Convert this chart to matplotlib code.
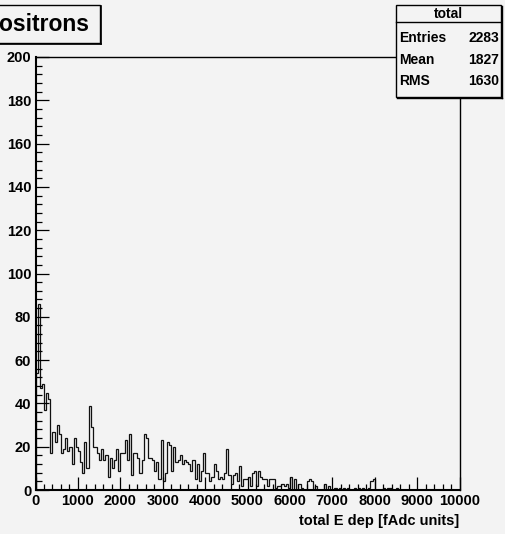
import matplotlib
matplotlib.use("Agg")
import matplotlib.pyplot as plt
from matplotlib.patches import Rectangle
from matplotlib.lines import Line2D
from matplotlib.ticker import MultipleLocator
import numpy as np

# ---------------- data ----------------
title = "positrons"
x_label = "total E dep [fAdc units]"
stats_name = "total"
stats_labels = ["Entries", "Mean", "RMS"]
stats_values = ["2283", "1827", "1630"]

x_min, x_max, n_bins = 0, 10000, 200

counts_a = [54, 86, 47, 49, 37, 45, 42, 17, 27, 22, 30, 26, 17, 19, 24, 18, 20, 12, 24, 20,
            18, 13, 8, 22, 10, 39, 29, 20, 20, 17, 14, 19, 14, 16, 6, 15, 10, 14, 19, 9,
            17, 17, 23, 14]
counts_b = [26, 7, 17, 17, 15, 8, 14, 26, 24, 15, 15, 14, 9, 13, 5, 23, 4, 8, 22, 21,
            9, 20, 13, 14, 16, 12, 14, 13, 12, 9, 14, 5, 12, 4, 9, 17, 8, 8, 4, 6,
            12, 9, 5, 6, 5, 8, 19, 7, 3, 7, 8]
counts_c = [4, 11, 2, 5, 5, 6, 2, 8, 9, 2, 9, 6, 5, 5, 2, 5, 5, 5, 1, 2,
            2, 3, 2, 3, 1, 6, 0, 5, 0, 3, 1, 0, 0, 4, 5, 4, 0, 2, 0, 0,
            0, 3, 0, 2, 0]
counts_d = [0, 1, 0, 1, 0, 1, 0, 1, 0, 0, 1, 0, 1, 0, 1, 0, 0, 1, 4, 5,
            0, 0, 0, 0, 1, 0, 1, 1, 0, 0, 1, 0, 0, 0, 0, 0, 0, 0, 0, 0,
            0, 0, 0, 0, 0, 0, 0, 0, 0, 0, 0, 0, 0, 0, 0, 0, 0, 0, 0, 0]

counts = np.array(counts_a + counts_b + counts_c + counts_d, dtype=float)
edges = np.linspace(x_min, x_max, n_bins + 1)

# ---------------- style ----------------
W, H = 505, 534
BG = "#f3f3f3"
FONT = ["Liberation Sans", "DejaVu Sans"]
plt.rcParams["font.family"] = FONT
plt.rcParams["font.weight"] = "bold"

fig = plt.figure(figsize=(W / 100, H / 100), dpi=100, facecolor=BG)

def fx(x):
    return x / W

def fy(y):
    return 1 - y / H

ax_l, ax_r, ax_t, ax_b = 35.5, 459.5, 57, 490
ax = fig.add_axes([fx(ax_l), fy(ax_b), fx(ax_r) - fx(ax_l), fy(ax_t) - fy(ax_b)])
ax.set_facecolor(BG)

ax.stairs(counts, edges, color="#111111", linewidth=0.9, baseline=0)

ax.set_xlim(x_min, x_max)
ax.set_ylim(0, 200)
ax.xaxis.set_major_locator(MultipleLocator(1000))
ax.xaxis.set_minor_locator(MultipleLocator(200))
ax.yaxis.set_major_locator(MultipleLocator(20))
ax.yaxis.set_minor_locator(MultipleLocator(4))
ax.tick_params(which="both", direction="in", top=False, right=False, color="black")
ax.tick_params(which="major", length=9.2, width=0.9, labelsize=10.5, pad=3)
ax.tick_params(which="minor", length=4.5, width=0.9)
for lab in ax.get_xticklabels() + ax.get_yticklabels():
    lab.set_fontweight("bold")
for s in ["left", "bottom"]:
    ax.spines[s].set_linewidth(1.5)
for s in ["top", "right"]:
    ax.spines[s].set_linewidth(1.0)

fig.text(fx(459), fy(521), x_label, ha="right", va="center", fontsize=10.5,
         fontweight="bold")

# ---------------- title box ----------------
tb = Rectangle((fx(-5), fy(43)), fx(105), fy(5) - fy(43), transform=fig.transFigure,
               facecolor=BG, edgecolor="black", linewidth=1.0, zorder=5)
fig.patches.append(tb)
fig.lines.append(Line2D([fx(0), fx(101)], [fy(44), fy(44)], transform=fig.transFigure,
                        color="black", linewidth=1.2, zorder=6))
fig.lines.append(Line2D([fx(101), fx(101)], [fy(44), fy(6)], transform=fig.transFigure,
                        color="black", linewidth=1.2, zorder=6))
fig.text(fx(89), fy(25), title, ha="right", va="center", fontsize=16.5,
         fontweight="bold", zorder=7)

# ---------------- stats box ----------------
sb_l, sb_r, sb_t, sb_b = 396, 501, 5, 97
sb = Rectangle((fx(sb_l), fy(sb_b)), fx(sb_r) - fx(sb_l), fy(sb_t) - fy(sb_b),
               transform=fig.transFigure, facecolor=BG, edgecolor="black",
               linewidth=1.0, zorder=5)
fig.patches.append(sb)
fig.lines.append(Line2D([fx(sb_l + 1), fx(sb_r + 1)], [fy(sb_b + 1), fy(sb_b + 1)],
                        transform=fig.transFigure, color="black", linewidth=1.0, zorder=6))
fig.lines.append(Line2D([fx(sb_r + 1), fx(sb_r + 1)], [fy(sb_b + 1), fy(sb_t + 1)],
                        transform=fig.transFigure, color="black", linewidth=1.0, zorder=6))
fig.lines.append(Line2D([fx(sb_l), fx(sb_r)], [fy(22), fy(22)], transform=fig.transFigure,
                        color="black", linewidth=1.0, zorder=6))
fig.text(fx((sb_l + sb_r) / 2), fy(13.5), stats_name, ha="center", va="center",
         fontsize=10, fontweight="bold", zorder=7)
row_y = [38, 60, 81]
for lab, val, yy in zip(stats_labels, stats_values, row_y):
    fig.text(fx(sb_l + 3), fy(yy), lab, ha="left", va="center", fontsize=10,
             fontweight="bold", zorder=7)
    fig.text(fx(sb_r - 2), fy(yy), val, ha="right", va="center", fontsize=10,
             fontweight="bold", zorder=7)

fig.savefig("out.png", dpi=100, facecolor=BG)
